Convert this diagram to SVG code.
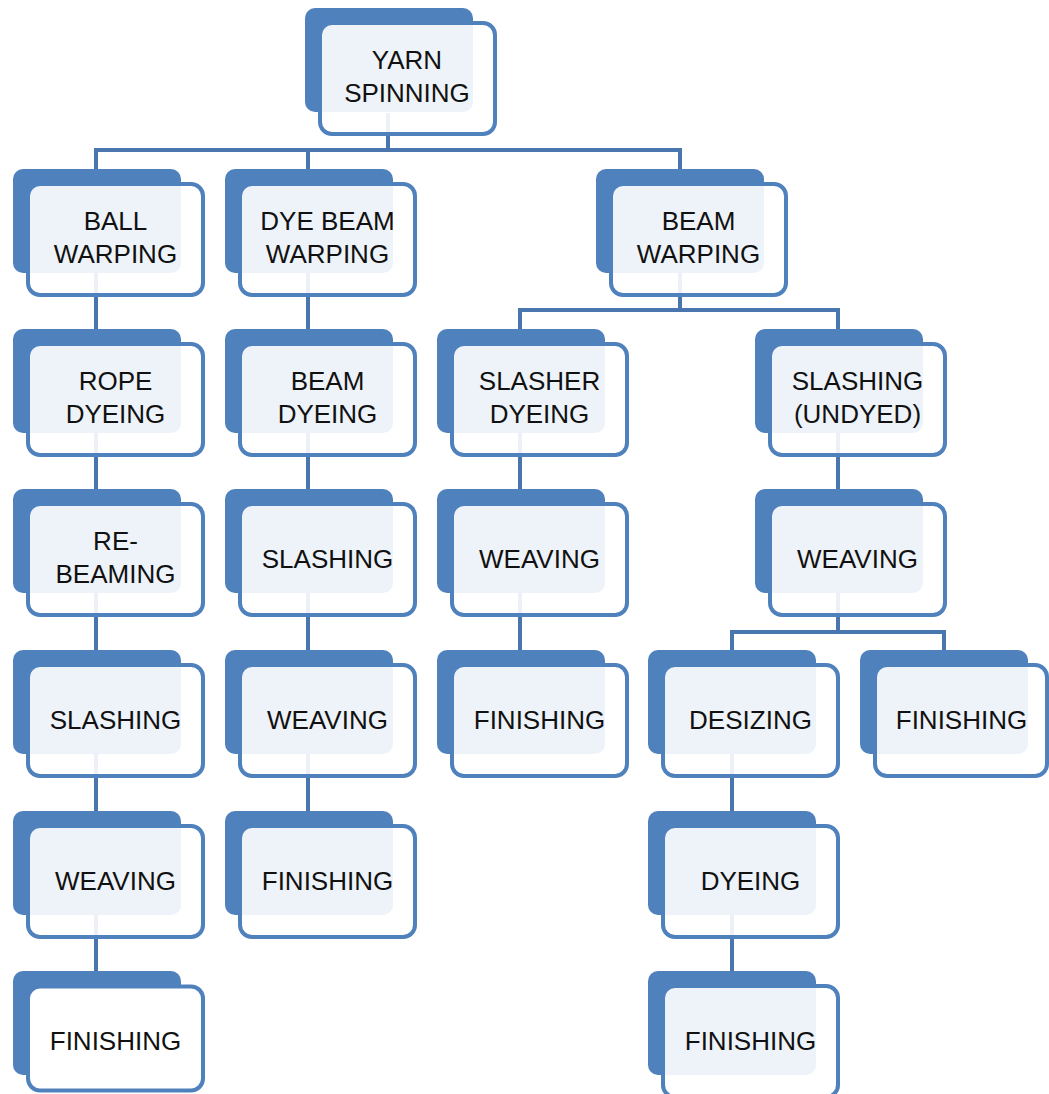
<svg xmlns="http://www.w3.org/2000/svg" width="1049" height="1094" viewBox="0 0 1049 1094">
<style>
.back{fill:#4F81BD}
.front{fill:#ffffff;fill-opacity:0.9;stroke:#4F81BD;stroke-width:4}
.solid{fill-opacity:1}
.conn{fill:none;stroke:#4A76B0;stroke-width:4;stroke-linecap:butt}
text{font-family:"Liberation Sans",Arial,sans-serif;font-size:26px;fill:#111;text-anchor:middle}
</style>
<defs>
<clipPath id="cl1"><rect x="0" y="0" width="182" height="1094"/></clipPath>
<clipPath id="cl2"><rect x="0" y="0" width="393" height="1094"/></clipPath>
<clipPath id="cly"><rect x="0" y="0" width="473" height="1094"/></clipPath>
<clipPath id="cls"><rect x="0" y="0" width="605" height="1094"/></clipPath>
<clipPath id="clb"><rect x="0" y="0" width="764" height="1094"/></clipPath>
<clipPath id="clu"><rect x="0" y="0" width="923" height="1094"/></clipPath>
<clipPath id="cld"><rect x="0" y="0" width="817" height="1094"/></clipPath>
<clipPath id="clf"><rect x="0" y="0" width="1028" height="1094"/></clipPath>
</defs>
<rect width="1049" height="1094" fill="#ffffff"/>
<g id="connectors" class="conn">
<path d="M388 113V150M96 150H680M96 148V169M308 148V169M680 148V169"/>
<path d="M96 273V329M96 433V489M96 593V650M96 754V811M96 915V971"/>
<path d="M308 273V329M308 433V489M308 593V650M308 754V811"/>
<path d="M680 273V310M520 310H838M520 308V329M838 308V329"/>
<path d="M520 433V489M520 593V650"/>
<path d="M838 433V489M838 593V632M732 632H944M732 630V650M944 630V650"/>
<path d="M732 754V811M732 915V971"/>
</g>
<g id="yarn-spinning"><rect class="back" x="305" y="8" width="168" height="104" rx="10"/><rect class="front" x="320" y="23" width="175" height="111" rx="12"/><g clip-path="url(#cly)"><text x="407" y="69">YARN</text><text x="407" y="102">SPINNING</text></g></g>
<g id="ball-warping"><rect class="back" x="13" y="169" width="168" height="104" rx="10"/><rect class="front" x="28" y="184" width="175" height="111" rx="12"/><g clip-path="url(#cl1)"><text x="115.5" y="230">BALL</text><text x="115.5" y="263">WARPING</text></g></g>
<g id="rope-dyeing"><rect class="back" x="13" y="329" width="168" height="104" rx="10"/><rect class="front" x="28" y="344" width="175" height="111" rx="12"/><g clip-path="url(#cl1)"><text x="115.5" y="390">ROPE</text><text x="115.5" y="423">DYEING</text></g></g>
<g id="re-beaming"><rect class="back" x="13" y="489" width="168" height="104" rx="10"/><rect class="front" x="28" y="504" width="175" height="111" rx="12"/><g clip-path="url(#cl1)"><text x="115.5" y="550">RE-</text><text x="115.5" y="583">BEAMING</text></g></g>
<g id="slashing-1"><rect class="back" x="13" y="650" width="168" height="104" rx="10"/><rect class="front" x="28" y="665" width="175" height="111" rx="12"/><g clip-path="url(#cl1)"><text x="115.5" y="729">SLASHING</text></g></g>
<g id="weaving-1"><rect class="back" x="13" y="811" width="168" height="104" rx="10"/><rect class="front" x="28" y="826" width="175" height="111" rx="12"/><g clip-path="url(#cl1)"><text x="115.5" y="890">WEAVING</text></g></g>
<g id="finishing-1"><rect class="back" x="13" y="971" width="168" height="104" rx="10"/><rect class="front solid" x="28" y="986.5" width="175" height="104" rx="12"/><g clip-path="url(#cl1)"><text x="115.5" y="1050">FINISHING</text></g></g>
<g id="dye-beam-warping"><rect class="back" x="225" y="169" width="168" height="104" rx="10"/><rect class="front" x="240" y="184" width="175" height="111" rx="12"/><g clip-path="url(#cl2)"><text x="327.5" y="230">DYE BEAM</text><text x="327.5" y="263">WARPING</text></g></g>
<g id="beam-dyeing"><rect class="back" x="225" y="329" width="168" height="104" rx="10"/><rect class="front" x="240" y="344" width="175" height="111" rx="12"/><g clip-path="url(#cl2)"><text x="327.5" y="390">BEAM</text><text x="327.5" y="423">DYEING</text></g></g>
<g id="slashing-2"><rect class="back" x="225" y="489" width="168" height="104" rx="10"/><rect class="front" x="240" y="504" width="175" height="111" rx="12"/><g clip-path="url(#cl2)"><text x="327.5" y="568">SLASHING</text></g></g>
<g id="weaving-2"><rect class="back" x="225" y="650" width="168" height="104" rx="10"/><rect class="front" x="240" y="665" width="175" height="111" rx="12"/><g clip-path="url(#cl2)"><text x="327.5" y="729">WEAVING</text></g></g>
<g id="finishing-2"><rect class="back" x="225" y="811" width="168" height="104" rx="10"/><rect class="front" x="240" y="826" width="175" height="111" rx="12"/><g clip-path="url(#cl2)"><text x="327.5" y="890">FINISHING</text></g></g>
<g id="beam-warping"><rect class="back" x="596" y="169" width="168" height="104" rx="10"/><rect class="front" x="611" y="184" width="175" height="111" rx="12"/><g clip-path="url(#clb)"><text x="698.5" y="230">BEAM</text><text x="698.5" y="263">WARPING</text></g></g>
<g id="slasher-dyeing"><rect class="back" x="437" y="329" width="168" height="104" rx="10"/><rect class="front" x="452" y="344" width="175" height="111" rx="12"/><g clip-path="url(#cls)"><text x="539.5" y="390">SLASHER</text><text x="539.5" y="423">DYEING</text></g></g>
<g id="weaving-3"><rect class="back" x="437" y="489" width="168" height="104" rx="10"/><rect class="front" x="452" y="504" width="175" height="111" rx="12"/><g clip-path="url(#cls)"><text x="539.5" y="568">WEAVING</text></g></g>
<g id="finishing-3"><rect class="back" x="437" y="650" width="168" height="104" rx="10"/><rect class="front" x="452" y="665" width="175" height="111" rx="12"/><g clip-path="url(#cls)"><text x="539.5" y="729">FINISHING</text></g></g>
<g id="slashing-undyed"><rect class="back" x="755" y="329" width="168" height="104" rx="10"/><rect class="front" x="770" y="344" width="175" height="111" rx="12"/><g clip-path="url(#clu)"><text x="857.5" y="390">SLASHING</text><text x="857.5" y="423">(UNDYED)</text></g></g>
<g id="weaving-4"><rect class="back" x="755" y="489" width="168" height="104" rx="10"/><rect class="front" x="770" y="504" width="175" height="111" rx="12"/><g clip-path="url(#clu)"><text x="857.5" y="568">WEAVING</text></g></g>
<g id="desizing"><rect class="back" x="648" y="650" width="168" height="104" rx="10"/><rect class="front" x="663" y="665" width="175" height="111" rx="12"/><g clip-path="url(#cld)"><text x="750.5" y="729">DESIZING</text></g></g>
<g id="finishing-4"><rect class="back" x="860" y="650" width="168" height="104" rx="10"/><rect class="front" x="875" y="665" width="172" height="111" rx="12"/><g clip-path="url(#clf)"><text x="961.5" y="729">FINISHING</text></g></g>
<g id="dyeing"><rect class="back" x="648" y="811" width="168" height="104" rx="10"/><rect class="front" x="663" y="826" width="175" height="111" rx="12"/><g clip-path="url(#cld)"><text x="750.5" y="890">DYEING</text></g></g>
<g id="finishing-5"><rect class="back" x="648" y="971" width="168" height="104" rx="10"/><rect class="front" x="663" y="986" width="175" height="111" rx="12"/><g clip-path="url(#cld)"><text x="750.5" y="1050">FINISHING</text></g></g>
</svg>
